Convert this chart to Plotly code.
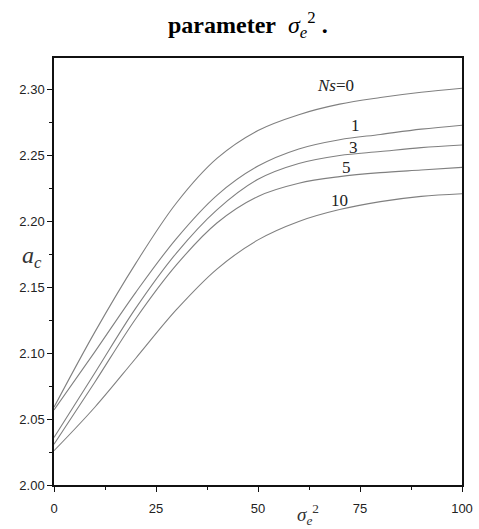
import plotly.graph_objects as go

sigma_e2 = [0, 10, 20, 30, 40, 50, 60, 70, 80, 90, 100]
ac_ns0 = [2.059, 2.116, 2.168, 2.214, 2.248, 2.269, 2.281, 2.289, 2.294, 2.298, 2.301]
ac_ns1 = [2.057, 2.101, 2.146, 2.187, 2.220, 2.242, 2.255, 2.262, 2.266, 2.270, 2.273]
ac_ns3 = [2.036, 2.085, 2.134, 2.176, 2.209, 2.232, 2.244, 2.250, 2.253, 2.256, 2.258]
ac_ns5 = [2.031, 2.078, 2.126, 2.167, 2.199, 2.219, 2.229, 2.234, 2.237, 2.239, 2.241]
ac_ns10 = [2.026, 2.059, 2.096, 2.133, 2.164, 2.186, 2.200, 2.209, 2.215, 2.219, 2.221]

series = [("Ns=0", ac_ns0), ("Ns=1", ac_ns1), ("Ns=3", ac_ns3), ("Ns=5", ac_ns5), ("Ns=10", ac_ns10)]

label_text = ["<i>Ns</i>=0", "1", "3", "5", "10"]
label_x = [68.9, 74.0, 73.4, 71.7, 69.9]
label_y = [2.303, 2.2727, 2.2558, 2.2407, 2.2159]

x_ticks = [0, 25, 50, 75, 100]
x_ticklabels = ["0", "25", "50", "75", "100"]
y_ticks = [2.00, 2.05, 2.10, 2.15, 2.20, 2.25, 2.30]
y_ticklabels = ["2.00", "2.05", "2.10", "2.15", "2.20", "2.25", "2.30"]

fig = go.Figure()
for name, vals in series:
    fig.add_trace(go.Scatter(x=sigma_e2, y=vals, mode="lines", name=name,
                             line=dict(color="#808080", width=1.1, shape="spline", smoothing=1.0),
                             showlegend=False))

serif = "Liberation Serif, Times New Roman, serif"
for t, lx, ly in zip(label_text, label_x, label_y):
    fig.add_annotation(x=lx, y=ly, text=t, showarrow=False, xref="x", yref="y",
                       xanchor="center", yanchor="middle",
                       font=dict(family=serif, size=17, color="#222"))

fig.add_annotation(x=0.475, y=1.077, xref="paper", yref="paper", showarrow=False,
                   xanchor="center", yanchor="middle",
                   text="<b>parameter</b>  <i>σ<sub>e</sub></i><sup>2</sup> <b>.</b>",
                   font=dict(family=serif, size=24, color="#000"))
fig.add_annotation(x=-0.054, y=2.1727, xref="paper", yref="y", showarrow=False,
                   xanchor="center", yanchor="middle",
                   text="<i>a<sub>c</sub></i>", font=dict(family=serif, size=24, color="#333"))
fig.add_annotation(x=0.623, y=-0.070, xref="paper", yref="paper", showarrow=False,
                   xanchor="center", yanchor="middle",
                   text="<i>σ<sub>e</sub></i><sup>2</sup>", font=dict(family=serif, size=19, color="#333"))

axis_font = dict(family="Liberation Sans, Arial, sans-serif", size=13, color="#222")
fig.update_xaxes(range=[0, 100], tickvals=x_ticks, ticktext=x_ticklabels,
                 showgrid=False, zeroline=False, showline=True, linecolor="#111", linewidth=1.5,
                 mirror=True, ticks="outside", ticklen=5, tickwidth=1.2, tickcolor="#111",
                 ticklabelstandoff=6, automargin=False,
                 minor=dict(tickvals=[12.5, 37.5, 62.5, 87.5], ticks="outside", ticklen=3,
                            tickwidth=1, tickcolor="#111"),
                 tickfont=axis_font)
fig.update_yaxes(range=[2.0, 2.324], tickvals=y_ticks, ticktext=y_ticklabels,
                 showgrid=False, zeroline=False, showline=True, linecolor="#111", linewidth=1.5,
                 mirror=True, ticks="outside", ticklen=5, tickwidth=1.2, tickcolor="#111",
                 automargin=False,
                 minor=dict(tickvals=[2.025, 2.075, 2.125, 2.175, 2.225, 2.275],
                            ticks="outside", ticklen=3, tickwidth=1, tickcolor="#111"),
                 tickfont=axis_font)

fig.update_layout(width=479, height=529, margin=dict(l=54, r=17, t=58, b=44),
                  plot_bgcolor="white", paper_bgcolor="white")

fig.write_html("out.html", config={"displayModeBar": False},
               post_script="document.body.style.margin='0';"
                           "document.body.style.overflow='hidden';"
                           "document.documentElement.style.overflow='hidden';")
